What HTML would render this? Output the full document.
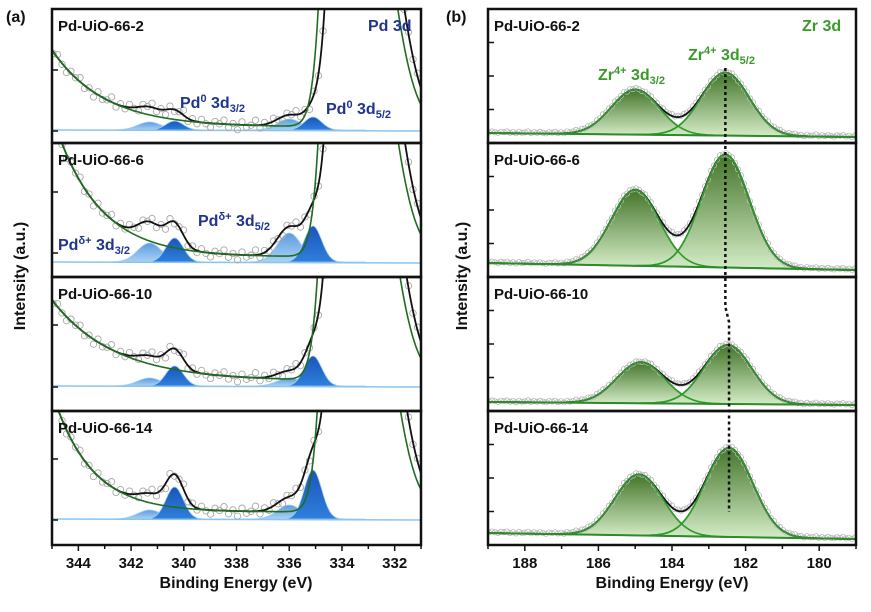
<!DOCTYPE html>
<html><head><meta charset="utf-8">
<style>
html,body{margin:0;padding:0;background:#fff;}
svg{display:block;font-family:"Liberation Sans",Arial,sans-serif;}
.lbl{font-weight:bold;font-size:15px;fill:#111;}
.tick{font-weight:bold;font-size:15px;fill:#111;}
.ttl{font-weight:bold;font-size:16px;fill:#111;}
</style></head>
<body>
<svg id="fig" width="871" height="612" viewBox="0 0 871 612" xmlns="http://www.w3.org/2000/svg">
<defs>
<linearGradient id="gDark" x1="0" y1="0" x2="0" y2="1"><stop offset="0" stop-color="#1a55b8"/><stop offset="1" stop-color="#2f7fdc"/></linearGradient>
<linearGradient id="gLight" x1="0" y1="0" x2="0" y2="1"><stop offset="0" stop-color="#5d9be0"/><stop offset="1" stop-color="#a9d2f5"/></linearGradient>
<linearGradient id="gGreen" x1="0" y1="0" x2="0" y2="1"><stop offset="0" stop-color="#44752a"/><stop offset="1" stop-color="#d4ecc6"/></linearGradient>
</defs>
<g id="left"></g>
<g id="right"></g>
<text x="6" y="22" class="ttl">(a)</text>
<text x="446" y="22" class="ttl">(b)</text>
<text transform="translate(25,276) rotate(-90)" text-anchor="middle" class="ttl">Intensity (a.u.)</text>
<text transform="translate(467,276) rotate(-90)" text-anchor="middle" class="ttl">Intensity (a.u.)</text>
<text x="236" y="588" text-anchor="middle" class="ttl">Binding Energy (eV)</text>
<text x="672" y="588" text-anchor="middle" class="ttl">Binding Energy (eV)</text>
<text x="368" y="31" font-weight="bold" font-size="16" fill="#1f3590">Pd 3d</text>
<text x="802" y="31" font-weight="bold" font-size="16" fill="#3a9a2a">Zr 3d</text>
<text x="180" y="108" font-weight="bold" font-size="16" fill="#1f3590">Pd<tspan dy="-6" font-size="11">0</tspan><tspan dy="6"> 3d</tspan><tspan dy="4" font-size="11">3/2</tspan></text>
<text x="326" y="114" font-weight="bold" font-size="16" fill="#1f3590">Pd<tspan dy="-6" font-size="11">0</tspan><tspan dy="6"> 3d</tspan><tspan dy="4" font-size="11">5/2</tspan></text>
<text x="198" y="226" font-weight="bold" font-size="16" fill="#1f3590">Pd<tspan dy="-6" font-size="11">δ+</tspan><tspan dy="6"> 3d</tspan><tspan dy="4" font-size="11">5/2</tspan></text>
<text x="58" y="250" font-weight="bold" font-size="16" fill="#1f3590">Pd<tspan dy="-6" font-size="11">δ+</tspan><tspan dy="6"> 3d</tspan><tspan dy="4" font-size="11">3/2</tspan></text>
<text x="598" y="80" font-weight="bold" font-size="16" fill="#3a9a2a">Zr<tspan dy="-6" font-size="11">4+</tspan><tspan dy="6"> 3d</tspan><tspan dy="4" font-size="11">3/2</tspan></text>
<text x="688" y="60" font-weight="bold" font-size="16" fill="#3a9a2a">Zr<tspan dy="-6" font-size="11">4+</tspan><tspan dy="6"> 3d</tspan><tspan dy="4" font-size="11">5/2</tspan></text>
</svg>
<script>
// ---- data ----
const sampleNames = ['Pd-UiO-66-2','Pd-UiO-66-6','Pd-UiO-66-10','Pd-UiO-66-14'];
const pdTicks = [344,342,340,338,336,334,332];
const zrTicks = [188,186,184,182,180];
const pdCenters = [341.3, 340.35, 336.0, 335.1];
const pdLight32 = [8,19,8,9];
const pdDark32 = [9,24,20,32];
const pdLight52 = [11,29,8,14];
const pdDark52 = [13,36,30,49];
const tailAmp = [77,142,81,120];
const tailDecay = [0.5,0.59,0.42,0.69];
const bgOffset = [3,5,5,7];
const zr52 = [63,113,59,89];
const zr32 = [45,76,41,61];
const zr52Center = [182.55,182.55,182.48,182.45];
const zr32Center = [185.0,185.0,184.85,184.9];
const jitter = [2,-3,1,4,-2,0,-4,3,-1,5,-3,2,0,-5,3,-2];

const NS='http://www.w3.org/2000/svg';
const svg=document.getElementById('fig');
const top0=9, ph=134;
function xL(E){return 52+(345-E)*26.36;}
function xR(E){return 488+(189-E)*36.8;}
function g(E,c,s){return Math.exp(-(E-c)*(E-c)/(2*s*s));}
function mk(tag,attrs,parent){const e=document.createElementNS(NS,tag);for(const k in attrs)e.setAttribute(k,attrs[k]);parent.appendChild(e);return e;}
const pdBase=[130,262,386,519];
const pdTickY=[[131,70],[253,192],[387,325],[520,459]];
const zrBaseL=[133,263,402,533], zrBaseR=[137,270,405,539];

const L=document.getElementById('left'), R=document.getElementById('right');
for(let p=0;p<4;p++){
  const y0=top0+p*ph, y1=y0+ph;
  const cl=mk('clipPath',{id:'cl'+p},svg); mk('rect',{x:52,y:y0,width:369,height:ph},cl);
  const gl=mk('g',{'clip-path':'url(#cl'+p+')'},L);
  
  
  const b=pdBase[p];
  const tail=E=>bgOffset[p]+tailAmp[p]*Math.exp(-(345-E)*tailDecay[p]);
  const zr3p=E=>(E>=333.3?2970*g(E,333.3,0.63):329*g(E,333.3,0.99));
  const bg=E=>tail(E)+zr3p(E);
  const pk=[[pdLight32[p],pdCenters[0],0.45,'url(#gLight)'],[pdDark32[p],pdCenters[1],0.33,'url(#gDark)'],[pdLight52[p],pdCenters[2],0.45,'url(#gLight)'],[pdDark52[p],pdCenters[3],0.33,'url(#gDark)']];
  pk.forEach((q,i)=>{
    let d='M'+xL(q[1]+2)+','+b;
    for(let E=q[1]+2;E>=q[1]-2;E-=0.04){d+=' L'+xL(E).toFixed(1)+','+(b-q[0]*g(E,q[1],q[2])).toFixed(1);}
    d+=' L'+xL(q[1]-2)+','+b+'Z';
    const e=mk('path',{d:d,fill:q[3],stroke:'#9fcdf2','stroke-width':0.8},gl);
    
    
  });
  mk('line',{x1:52,y1:b,x2:421,y2:b+1,stroke:'#8cc4ef','stroke-width':1.5},gl);
  const tot=E=>tail(E)+zr3p(E+0.25)+pk.reduce((s,q)=>s+q[0]*g(E,q[1],q[2]),0);
  let k=0;
  for(let x=53;x<421;x+=4.5){const E=345-(x-52)/26.36;const c=mk('circle',{cx:x.toFixed(1),cy:(b-tot(E)+jitter[k%jitter.length]).toFixed(1),r:3.2,fill:'none',stroke:'#a8a8a8','stroke-width':0.9},gl);k++;}
  let dg='',dt='';
  for(let x=52;x<=421;x+=1){const E=345-(x-52)/26.36;const yg=Math.max(y0-50,b-bg(E)),yt=Math.max(y0-50,b-tot(E));dg+=(x==52?'M':' L')+x+','+yg.toFixed(1);dt+=(x==52?'M':' L')+x+','+yt.toFixed(1);}
  const ebl=mk('path',{d:dt,fill:'none',stroke:'#111','stroke-width':1.8},gl);
  
  
  const egl=mk('path',{d:dg,fill:'none',stroke:'#1f6e1f','stroke-width':1.6},gl);
  
  
  const tl=mk('text',{x:58,y:y0+22,class:'lbl'},L); tl.textContent=sampleNames[p];
  
  
  pdTickY[p].forEach(ty=>mk('line',{x1:52,y1:ty,x2:58,y2:ty,stroke:'#111','stroke-width':1.5},L));

  const cr=mk('clipPath',{id:'cr'+p},svg); mk('rect',{x:488,y:y0,width:368,height:ph},cr);
  const gr=mk('g',{'clip-path':'url(#cr'+p+')'},R);
  
  
  const bl=x=>zrBaseL[p]+(zrBaseR[p]-zrBaseL[p])*(x-488)/368;
  const zp=[[zr32[p],zr32Center[p]],[zr52[p],zr52Center[p]]];
  zp.forEach((q,i)=>{
    const E0=q[1]+2.4,E1=q[1]-2.4;
    let d='M'+xR(E0).toFixed(1)+','+bl(xR(E0)).toFixed(1);
    for(let E=E0;E>=E1;E-=0.03){const x=xR(E);d+=' L'+x.toFixed(1)+','+(bl(x)-q[0]*g(E,q[1],0.65)).toFixed(1);}
    d+=' L'+xR(E1).toFixed(1)+','+bl(xR(E1)).toFixed(1)+'Z';
    const e=mk('path',{d:d,fill:'url(#gGreen)',stroke:'#2f9a2a','stroke-width':1.6},gr);
    
    
  });
  const ztot=E=>zp.reduce((s,q)=>s+q[0]*g(E,q[1],0.65),0);
  k=0;
  for(let x=489;x<856;x+=3){const E=189-(x-488)/36.8;const c=mk('circle',{cx:x,cy:(bl(x)-ztot(E)-1+jitter[k%jitter.length]*0.2).toFixed(1),r:2.6,fill:'none',stroke:'#b8b8b8','stroke-width':0.8},gr);k++;}
  let dz='';
  for(let x=488;x<=856;x+=1){const E=189-(x-488)/36.8;dz+=(x==488?'M':' L')+x+','+(bl(x)-ztot(E)).toFixed(1);}
  const ez=mk('path',{d:dz,fill:'none',stroke:'#111','stroke-width':1.8},gr);
  
  
  zp.forEach(q=>{let d='';let f=true;for(let E=q[1]+2.4;E>=q[1]-2.4;E-=0.03){const x=xR(E);d+=(f?'M':' L')+x.toFixed(1)+','+(bl(x)-q[0]*g(E,q[1],0.65)).toFixed(1);f=false;}mk('path',{d:d,fill:'none',stroke:'#2f9a2a','stroke-width':1.6},gr);});
  mk('line',{x1:488,y1:zrBaseL[p],x2:856,y2:zrBaseR[p],stroke:'#2f8a2a','stroke-width':2},gr);
  const tr=mk('text',{x:494,y:y0+22,class:'lbl'},R); tr.textContent=sampleNames[p];
  
  
  for(let j=1;j<=3;j++)mk('line',{x1:488,y1:y1-33.5*j,x2:494,y2:y1-33.5*j,stroke:'#111','stroke-width':1.5},R);
}
for(let p=0;p<4;p++){const y0=top0+p*ph;
  mk('rect',{x:52,y:y0,width:369,height:ph,fill:'none',stroke:'#111','stroke-width':2.5},svg);
  mk('rect',{x:488,y:y0,width:368,height:ph,fill:'none',stroke:'#111','stroke-width':2.5},svg);}
const dl=mk('path',{d:'M'+xR(zr52Center[0])+',68 L'+xR(zr52Center[0])+',307 L'+xR(zr52Center[3])+',322 L'+xR(zr52Center[3])+',512',fill:'none',stroke:'#111','stroke-width':2.5,'stroke-dasharray':'3,3'},svg);


const yb=top0+4*ph;
for(let E=345;E>=331;E--){mk('line',{x1:xL(E),y1:yb,x2:xL(E),y2:yb+(E%2==0?6:4),stroke:'#111','stroke-width':1.5},svg);}
pdTicks.forEach(E=>{const t=mk('text',{x:xL(E),y:yb+23,'text-anchor':'middle',class:'tick'},svg);t.textContent=E;});
for(let E=189;E>=179;E--){mk('line',{x1:xR(E),y1:yb,x2:xR(E),y2:yb+(E%2==0?6:4),stroke:'#111','stroke-width':1.5},svg);}
zrTicks.forEach(E=>{const t=mk('text',{x:xR(E),y:yb+23,'text-anchor':'middle',class:'tick'},svg);t.textContent=E;});
</script>
</body></html>
